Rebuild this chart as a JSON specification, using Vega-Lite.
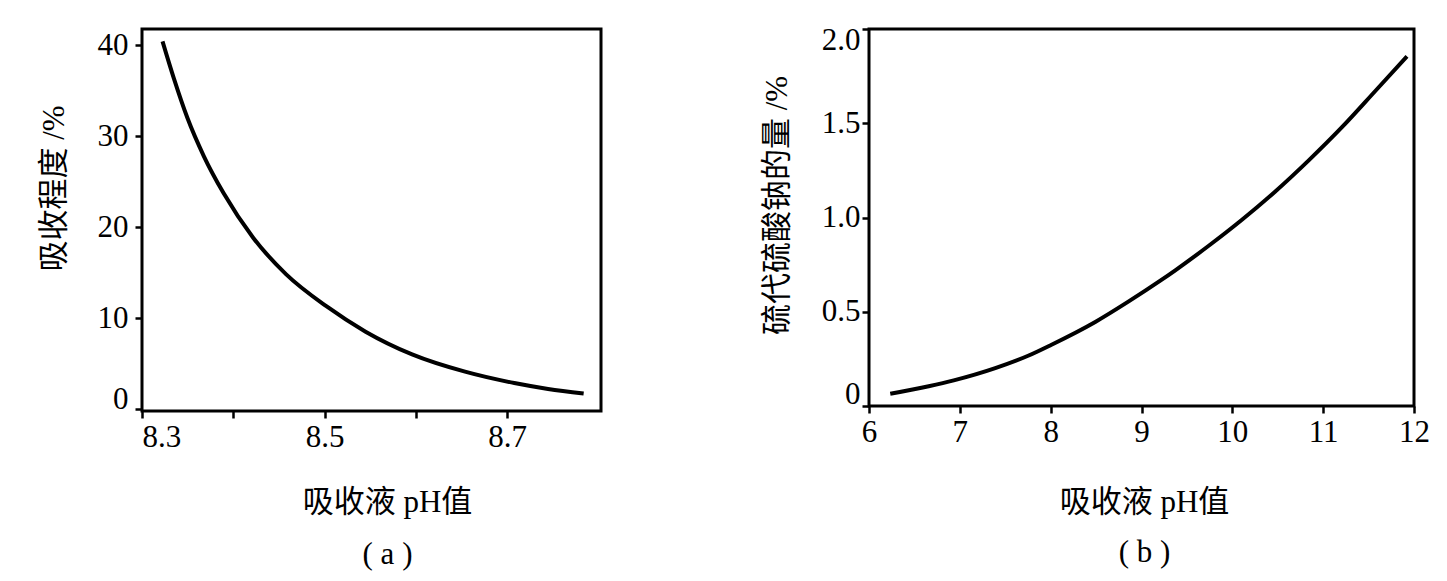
{
  "$schema": "https://vega.github.io/schema/vega-lite/v6.json",
  "background": "white",
  "padding": {"left": 36, "top": 22, "right": 5, "bottom": 5},
  "spacing": 156,
  "config": {
    "view": {"stroke": "black", "strokeWidth": 3},
    "font": "Liberation Serif, Noto Sans CJK SC",
    "axis": {
      "domain": false, "grid": false, "ticks": true,
      "tickColor": "black", "tickWidth": 2.5, "tickSize": 7,
      "labelFont": "Liberation Serif", "labelFontSize": 31, "labelColor": "black", "labelPadding": 4,
      "titleFont": "Liberation Serif, Noto Sans CJK SC", "titleFontSize": 31, "titleFontWeight": "normal", "titleColor": "black"
    }
  },
  "hconcat": [
    {
      "width": 459,
      "height": 382,
      "data": {"values": [
        {"pH": 8.3225, "v": 40.4}, {"pH": 8.335, "v": 36.3}, {"pH": 8.3497, "v": 32.0}, {"pH": 8.3677, "v": 27.8},
        {"pH": 8.3895, "v": 23.7}, {"pH": 8.422, "v": 18.8}, {"pH": 8.458, "v": 14.8}, {"pH": 8.502, "v": 11.3},
        {"pH": 8.545, "v": 8.5}, {"pH": 8.596, "v": 6.0}, {"pH": 8.654, "v": 4.1}, {"pH": 8.708, "v": 2.85},
        {"pH": 8.745, "v": 2.2}, {"pH": 8.784, "v": 1.7}
      ]},
      "mark": {"type": "line", "color": "black", "strokeWidth": 4, "interpolate": "monotone"},
      "encoding": {
        "x": {
          "field": "pH", "type": "quantitative",
          "scale": {"domain": [8.3, 8.803], "nice": false, "zero": false},
          "axis": {
            "values": [8.3, 8.4, 8.5, 8.6, 8.7],
            "labelExpr": "datum.value == 8.4 || datum.value == 8.6 ? '' : format(datum.value, '.1f')",
            "labelFlush": 3,
            "title": ["吸收液 pH值", "( a )"],
            "titleLineHeight": 52, "titleBaseline": "top", "titleAlign": "center",
            "titleX": 245, "titleY": 76
          }
        },
        "y": {
          "field": "v", "type": "quantitative",
          "scale": {"domain": [-0.22, 41.76], "nice": false, "zero": false},
          "axis": {
            "values": [0, 10, 20, 30, 40],
            "labelFlush": 5,
            "labelFlushOffset": 7,
            "labelPadding": 7,
            "title": "吸收程度 /%",
            "titleAngle": -90, "titleAlign": "center", "titleBaseline": "middle",
            "titleX": -88, "titleY": 159
          }
        }
      }
    },
    {
      "width": 545,
      "height": 377,
      "data": {"values": [
        {"pH": 6.234, "v": 0.065}, {"pH": 6.657, "v": 0.105}, {"pH": 6.933, "v": 0.136}, {"pH": 7.39, "v": 0.201},
        {"pH": 7.758, "v": 0.268}, {"pH": 8.004, "v": 0.324}, {"pH": 8.491, "v": 0.446}, {"pH": 8.859, "v": 0.555},
        {"pH": 9.207, "v": 0.665}, {"pH": 9.372, "v": 0.72}, {"pH": 9.74, "v": 0.85}, {"pH": 10.106, "v": 0.988},
        {"pH": 10.473, "v": 1.138}, {"pH": 10.841, "v": 1.303}, {"pH": 11.207, "v": 1.479}, {"pH": 11.574, "v": 1.671},
        {"pH": 11.923, "v": 1.855}
      ]},
      "mark": {"type": "line", "color": "black", "strokeWidth": 4, "interpolate": "monotone"},
      "encoding": {
        "x": {
          "field": "pH", "type": "quantitative",
          "scale": {"domain": [6, 12], "nice": false, "zero": false},
          "axis": {
            "values": [6, 7, 8, 9, 10, 11, 12],
            "labelFlush": false,
            "title": ["吸收液 pH值", "( b )"],
            "titleLineHeight": 50, "titleBaseline": "top", "titleAlign": "center",
            "titleX": 275, "titleY": 81
          }
        },
        "y": {
          "field": "v", "type": "quantitative",
          "scale": {"domain": [0, 2], "nice": false, "zero": false},
          "axis": {
            "values": [0, 0.5, 1, 1.5, 2],
            "labelExpr": "datum.value == 0 ? '0' : format(datum.value, '.1f')",
            "labelFlush": true,
            "labelFlushOffset": 4,
            "labelPadding": 2,
            "title": "硫代硫酸钠的量 /%",
            "titleAngle": -90, "titleAlign": "center", "titleBaseline": "middle",
            "titleX": -92, "titleY": 176
          }
        }
      }
    }
  ]
}
